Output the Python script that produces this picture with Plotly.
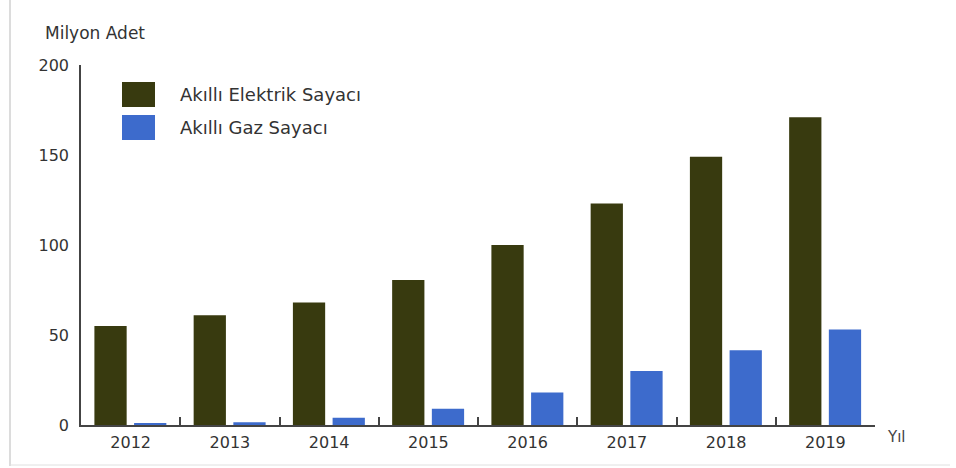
import plotly.graph_objects as go

# Smart meter installations (million units) by year
years = ["2012", "2013", "2014", "2015", "2016", "2017", "2018", "2019"]
elektrik = [55, 61, 68, 80.5, 100, 123, 149, 171]
gaz = [1, 1.5, 4, 9, 18, 30, 41.5, 53]
y_ticks = [0, 50, 100, 150, 200]

series_names = ["Akıllı Elektrik Sayacı", "Akıllı Gaz Sayacı"]
colors = ["#383a0f", "#3d6bcc"]

W, H = 956, 468
L, R, T, B = 81, 81, 65, 43
pw, ph = W - L - R, H - T - B
FONT = "DejaVu Sans, Verdana, sans-serif"

fig = go.Figure()
fig.add_trace(go.Bar(x=years, y=elektrik, name=series_names[0],
                     marker=dict(color=colors[0], line=dict(width=0)),
                     width=0.325, offset=-0.365, showlegend=False))
fig.add_trace(go.Bar(x=years, y=gaz, name=series_names[1],
                     marker=dict(color=colors[1], line=dict(width=0)),
                     width=0.325, offset=0.035, showlegend=False))

def px_x(px):
    return (px - L) / pw

def px_y(py):
    return (H - B - py) / ph

shapes = []
annotations = []
# Legend swatches and labels
for i, (name, col) in enumerate(zip(series_names, colors)):
    y0, y1 = 82 + i * 33, 107 + i * 33
    shapes.append(dict(type="rect", xref="paper", yref="paper",
                       x0=px_x(122), x1=px_x(155), y0=px_y(y1), y1=px_y(y0),
                       fillcolor=col, line=dict(width=0)))
    annotations.append(dict(xref="paper", yref="paper", x=px_x(178),
                            y=px_y((y0 + y1) / 2), text=name, showarrow=False,
                            xanchor="left", yanchor="middle",
                            font=dict(size=18, color="#333333")))

# Axis captions
annotations.append(dict(xref="paper", yref="paper", x=px_x(43), y=px_y(33),
                        text="Milyon Adet", showarrow=False, xanchor="left",
                        yanchor="middle", font=dict(size=17, color="#333333")))
annotations.append(dict(xref="paper", yref="paper", x=px_x(885), y=px_y(437),
                        text="Yıl", showarrow=False, xanchor="left",
                        yanchor="middle", font=dict(size=15, color="#444444")))

# Thin frame lines on the left and bottom edges
shapes.append(dict(type="line", xref="paper", yref="paper",
                   x0=px_x(10), x1=px_x(10), y0=px_y(466), y1=px_y(0),
                   line=dict(color="#d0d0d0", width=1.5)))
shapes.append(dict(type="line", xref="paper", yref="paper",
                   x0=px_x(10), x1=px_x(950), y0=px_y(465), y1=px_y(465),
                   line=dict(color="#e0e0e0", width=1)))

fig.update_layout(
    width=W, height=H,
    margin=dict(l=L, r=R, t=T, b=B),
    paper_bgcolor="white", plot_bgcolor="white",
    font=dict(family=FONT, color="#333333", size=16),
    shapes=shapes, annotations=annotations,
    bargap=0.27,
)
fig.update_xaxes(
    type="category", range=[-0.5, 7.5],
    showline=True, linecolor="#444444", linewidth=1.5,
    ticks="inside", tickson="boundaries", ticklen=8, tickcolor="#444444",
    tickwidth=1.5, showgrid=False, zeroline=False,
    tickfont=dict(size=16, color="#333333"), ticklabelstandoff=2,
)
fig.update_yaxes(
    range=[0, 200], tickvals=y_ticks,
    showline=True, linecolor="#444444", linewidth=1.5,
    ticks="", showgrid=False, zeroline=False,
    tickfont=dict(size=16, color="#333333"), ticklabelstandoff=7,
)

fig.write_html("out.html")
